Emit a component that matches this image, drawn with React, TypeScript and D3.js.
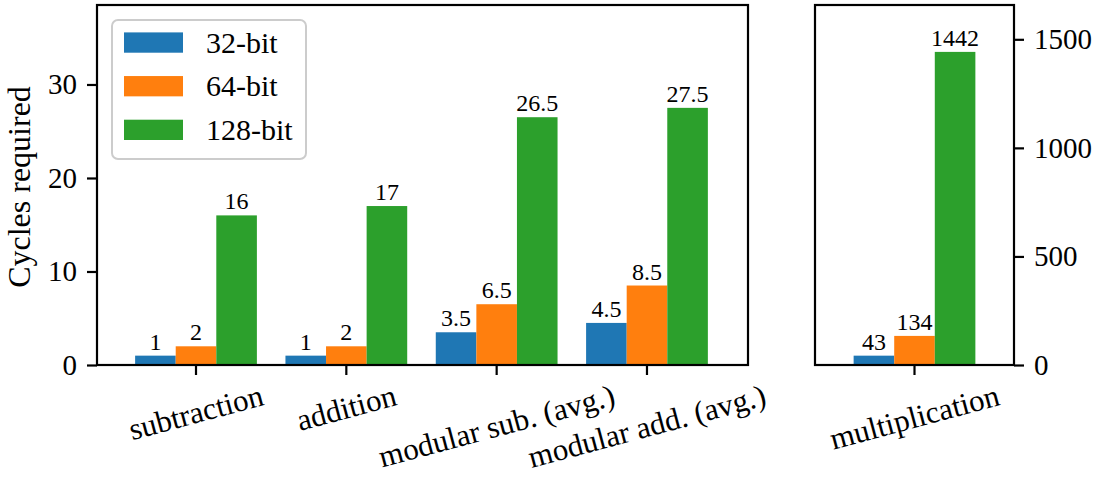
import React, { useEffect, useRef } from 'react';
import * as d3 from 'd3';

const leftCategories = ['subtraction', 'addition', 'modular sub. (avg.)', 'modular add. (avg.)'];
const rightCategories = ['multiplication'];
const seriesNames = ['32-bit', '64-bit', '128-bit'];
const colors = ['#1f77b4', '#ff7f0e', '#2ca02c'];
const left32 = [1, 1, 3.5, 4.5];
const left64 = [2, 2, 6.5, 8.5];
const left128 = [16, 17, 26.5, 27.5];
const right32 = [43];
const right64 = [134];
const right128 = [1442];
const leftTicks = [0, 10, 20, 30];
const rightTicks = [0, 500, 1000, 1500];
const yLabel = 'Cycles required';

export default function App() {
  const ref = useRef<SVGSVGElement>(null);
  useEffect(() => {
    const svg = d3.select(ref.current);
    svg.selectAll('*').remove();
    const FONT = 'Liberation Serif';
    const top = 5;
    const bottom = 365;
    const SW = 2.2;
    const panels = [
      { x0: 97, x1: 748, xlim: [-0.6586, 3.672], ymax: 38.5, cats: leftCategories, series: [left32, left64, left128], ticks: leftTicks, side: 'left' },
      { x0: 815, x1: 1014, xlim: [-0.662, 0.662], ymax: 1658, cats: rightCategories, series: [right32, right64, right128], ticks: rightTicks, side: 'right' },
    ];
    const barW = 0.27;
    panels.forEach((p) => {
      const x = d3.scaleLinear().domain(p.xlim).range([p.x0, p.x1]);
      const y = d3.scaleLinear().domain([0, p.ymax]).range([bottom, top]);
      const g = svg.append('g');
      p.series.forEach((vals, si) => {
        const off = (si - 1) * barW;
        g.selectAll(null).data(vals).enter().append('rect')
          .attr('x', (d, i) => x(i + off - barW / 2))
          .attr('width', x(barW) - x(0))
          .attr('y', (d) => y(d))
          .attr('height', (d) => y(0) - y(d))
          .attr('fill', colors[si]);
        g.selectAll(null).data(vals).enter().append('text')
          .attr('x', (d, i) => x(i + off))
          .attr('y', (d) => y(d) - 6)
          .attr('text-anchor', 'middle')
          .style('font-size', '24px')
          .style('font-family', FONT)
          .attr('fill', '#000')
          .text((d) => String(d));
      });
      g.append('rect')
        .attr('x', p.x0).attr('y', top)
        .attr('width', p.x1 - p.x0).attr('height', bottom - top)
        .attr('fill', 'none').attr('stroke', '#000').attr('stroke-width', SW);
      const axis = p.side === 'left' ? d3.axisLeft(y) : d3.axisRight(y);
      axis.tickValues(p.ticks).tickSize(10).tickPadding(10).tickFormat((d) => String(d));
      const ya = g.append('g')
        .attr('transform', `translate(${p.side === 'left' ? p.x0 : p.x1},0)`)
        .call(axis);
      ya.attr('font-family', null).attr('font-size', null);
      ya.select('.domain').remove();
      ya.selectAll('line').attr('stroke', '#000').attr('stroke-width', SW);
      ya.selectAll('text').style('font-size', '29px').style('font-family', FONT).attr('fill', '#000');
      p.cats.forEach((c, i) => {
        const tx0 = x(i);
        g.append('line')
          .attr('x1', tx0).attr('x2', tx0)
          .attr('y1', bottom).attr('y2', bottom + 10)
          .attr('stroke', '#000').attr('stroke-width', SW);
        const fs = 31;
        const t = g.append('text')
          .attr('text-anchor', 'middle')
          .style('font-size', fs + 'px')
          .style('font-family', FONT)
          .attr('fill', '#000')
          .text(c);
        const node = t.node() as SVGTextElement;
        const L = node.getComputedTextLength();
        const a = 0.891 * fs;
        const dsc = 0.216 * fs;
        const ang = (-15 * Math.PI) / 180;
        const corners = [[-L / 2, -a], [L / 2, -a], [-L / 2, dsc], [L / 2, dsc]].map(([px, py]) => [
          px * Math.cos(ang) - py * Math.sin(ang),
          px * Math.sin(ang) + py * Math.cos(ang),
        ]);
        const minX = d3.min(corners, (q) => q[0]) as number;
        const maxX = d3.max(corners, (q) => q[0]) as number;
        const minY = d3.min(corners, (q) => q[1]) as number;
        const ttx = tx0 - (minX + maxX) / 2;
        const tty = bottom + 13 - minY;
        t.attr('transform', `translate(${ttx},${tty}) rotate(-15)`);
      });
    });

    svg.append('text')
      .attr('transform', 'translate(30,187) rotate(-90)')
      .attr('text-anchor', 'middle')
      .style('font-size', '32px')
      .style('font-family', FONT)
      .attr('fill', '#000')
      .text(yLabel);

    const lg = svg.append('g');
    lg.append('rect')
      .attr('x', 112).attr('y', 20).attr('width', 194).attr('height', 139)
      .attr('rx', 6).attr('ry', 6)
      .attr('fill', '#fff').attr('fill-opacity', 0.8)
      .attr('stroke', '#cccccc').attr('stroke-width', 2);
    const rowY = d3.scaleLinear().domain([0, 2]).range([52.7, 140]);
    seriesNames.forEach((s, i) => {
      lg.append('rect')
        .attr('x', 124).attr('y', rowY(i) - 20.3)
        .attr('width', 59).attr('height', 20.3)
        .attr('fill', colors[i]);
      lg.append('text')
        .attr('x', 206).attr('y', rowY(i))
        .style('font-size', '30px')
        .style('font-family', FONT)
        .attr('fill', '#000')
        .text(s);
    });
  }, []);
  return (
    <svg
      ref={ref}
      width={1099}
      height={478}
      style={{ position: 'absolute', left: 0, top: 0, background: '#fff' }}
    />
  );
}
